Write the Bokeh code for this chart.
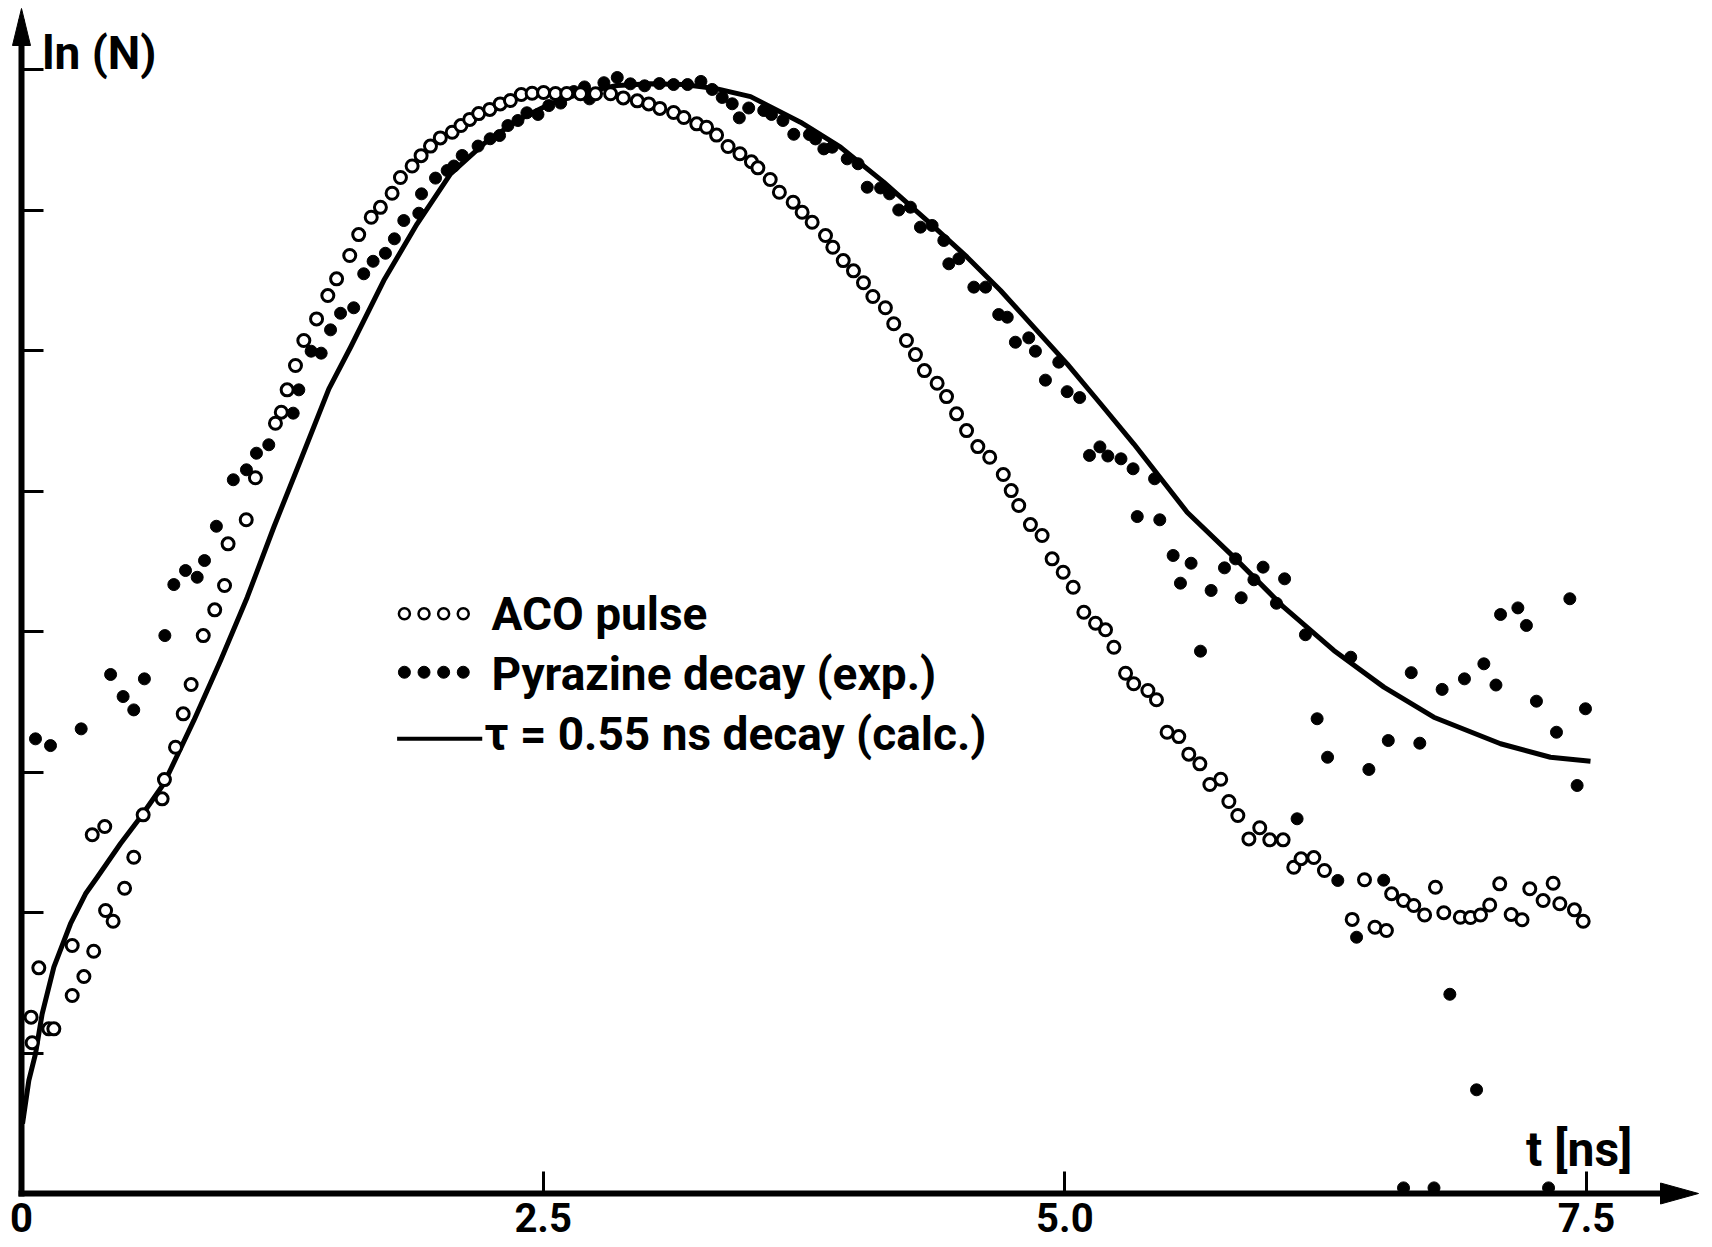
from bokeh.plotting import figure
from bokeh.models import Range1d, FixedTicker, Label
from bokeh.embed import file_html
from bokeh.resources import INLINE

# ---------------- data (t in ns, ln(N) in tick units) ----------------
aco_t = [0.046, 0.051, 0.083, 0.131, 0.155, 0.243, 0.243, 0.299, 0.339, 0.346,
         0.399, 0.403, 0.439, 0.494, 0.538, 0.583, 0.674, 0.685, 0.738, 0.775,
         0.813, 0.871, 0.926, 0.973, 0.990, 1.077, 1.121, 1.217, 1.245, 1.273,
         1.313, 1.353, 1.414, 1.468, 1.510, 1.573, 1.616, 1.676, 1.720, 1.776,
         1.816, 1.872, 1.915, 1.960, 2.007, 2.064, 2.106, 2.148, 2.191, 2.244,
         2.294, 2.343, 2.395, 2.447, 2.502, 2.559, 2.613, 2.679, 2.751, 2.823,
         2.884, 2.951, 3.006, 3.059, 3.125, 3.174, 3.236, 3.283, 3.331, 3.386,
         3.443, 3.498, 3.529, 3.588, 3.632, 3.698, 3.741, 3.789, 3.853, 3.888,
         3.938, 3.987, 4.035, 4.080, 4.140, 4.180, 4.241, 4.284, 4.327, 4.388,
         4.433, 4.481, 4.529, 4.583, 4.640, 4.705, 4.743, 4.779, 4.835, 4.891,
         4.939, 4.992, 5.040, 5.091, 5.147, 5.195, 5.235, 5.291, 5.330, 5.398,
         5.439, 5.490, 5.546, 5.594, 5.647, 5.695, 5.747, 5.786, 5.829, 5.882,
         5.934, 5.982, 6.046, 6.097, 6.132, 6.193, 6.244, 6.377, 6.436, 6.486,
         6.541, 6.566, 6.623, 6.672, 6.724, 6.776, 6.816, 6.895, 6.944, 6.992,
         7.036, 7.084, 7.139, 7.191, 7.228, 7.292, 7.340, 7.372, 7.442, 7.484]
aco_ln = [1.255, 1.073, 1.606, 1.172, 1.172, 1.409, 1.765, 1.544, 2.553, 1.724,
          2.612, 2.014, 1.938, 2.173, 2.393, 2.695, 2.809, 2.946, 3.176, 3.414,
          3.623, 3.971, 4.154, 4.327, 4.624, 4.795, 5.094, 5.482, 5.561, 5.720,
          5.893, 6.071, 6.225, 6.391, 6.510, 6.676, 6.825, 6.948, 7.019, 7.119,
          7.231, 7.313, 7.387, 7.455, 7.513, 7.553, 7.601, 7.645, 7.686, 7.716,
          7.755, 7.779, 7.822, 7.831, 7.836, 7.829, 7.829, 7.827, 7.827, 7.827,
          7.798, 7.777, 7.755, 7.723, 7.694, 7.658, 7.613, 7.589, 7.533, 7.452,
          7.400, 7.343, 7.300, 7.217, 7.126, 7.055, 6.984, 6.913, 6.818, 6.735,
          6.640, 6.567, 6.482, 6.384, 6.304, 6.190, 6.071, 5.971, 5.857, 5.767,
          5.672, 5.549, 5.430, 5.316, 5.240, 5.117, 5.003, 4.897, 4.761, 4.683,
          4.517, 4.422, 4.315, 4.137, 4.059, 4.012, 3.888, 3.703, 3.628, 3.580,
          3.514, 3.283, 3.252, 3.127, 3.058, 2.911, 2.948, 2.790, 2.690, 2.524,
          2.603, 2.517, 2.517, 2.322, 2.383, 2.391, 2.299, 1.951, 2.233, 1.895,
          1.872, 2.133, 2.085, 2.050, 1.982, 2.180, 1.998, 1.966, 1.964, 1.982,
          2.053, 2.204, 1.986, 1.948, 2.169, 2.085, 2.208, 2.062, 2.019, 1.938]

pyr_t = [0.067, 0.139, 0.286, 0.427, 0.487, 0.538, 0.589, 0.687, 0.730, 0.786,
         0.842, 0.877, 0.934, 1.015, 1.078, 1.126, 1.185, 1.302, 1.329, 1.388,
         1.436, 1.481, 1.529, 1.592, 1.640, 1.685, 1.744, 1.787, 1.832, 1.904,
         1.917, 1.984, 2.040, 2.072, 2.112, 2.188, 2.246, 2.291, 2.331, 2.379,
         2.422, 2.475, 2.527, 2.584, 2.647, 2.698, 2.722, 2.791, 2.855, 2.918,
         2.986, 3.057, 3.125, 3.192, 3.256, 3.310, 3.358, 3.406, 3.440, 3.485,
         3.557, 3.594, 3.649, 3.701, 3.776, 3.805, 3.845, 3.885, 3.957, 4.009,
         4.053, 4.117, 4.160, 4.204, 4.260, 4.308, 4.364, 4.420, 4.444, 4.492,
         4.564, 4.620, 4.683, 4.724, 4.763, 4.827, 4.859, 4.907, 4.971, 5.011,
         5.071, 5.118, 5.168, 5.206, 5.269, 5.327, 5.347, 5.430, 5.455, 5.519,
         5.554, 5.605, 5.650, 5.701, 5.765, 5.818, 5.845, 5.906, 5.950, 6.014,
         6.053, 6.113, 6.153, 6.209, 6.259, 6.308, 6.370, 6.398, 6.457, 6.528,
         6.550, 6.623, 6.660, 6.701, 6.769, 6.808, 6.845, 6.915, 6.973, 7.008,
         7.066, 7.088, 7.171, 7.212, 7.260, 7.318, 7.356, 7.420, 7.455, 7.495]
pyr_ln = [3.236, 3.188, 3.307, 3.694, 3.537, 3.442, 3.663, 3.971, 4.334, 4.434,
          4.386, 4.505, 4.749, 5.080, 5.151, 5.269, 5.329, 5.554, 5.720, 5.995,
          5.981, 6.147, 6.265, 6.304, 6.546, 6.635, 6.692, 6.795, 6.925, 6.977,
          7.115, 7.227, 7.281, 7.313, 7.388, 7.455, 7.507, 7.530, 7.601, 7.637,
          7.692, 7.680, 7.743, 7.761, 7.843, 7.876, 7.791, 7.906, 7.943, 7.898,
          7.884, 7.900, 7.893, 7.893, 7.915, 7.858, 7.801, 7.756, 7.656, 7.726,
          7.708, 7.680, 7.637, 7.539, 7.537, 7.506, 7.435, 7.447, 7.364, 7.329,
          7.162, 7.157, 7.115, 7.000, 7.020, 6.878, 6.890, 6.783, 6.617, 6.653,
          6.451, 6.451, 6.256, 6.237, 6.059, 6.090, 5.995, 5.789, 5.917, 5.707,
          5.665, 5.253, 5.314, 5.249, 5.229, 5.158, 4.818, 5.087, 4.795, 4.541,
          4.344, 4.486, 3.860, 4.292, 4.453, 4.517, 4.240, 4.368, 4.458, 4.201,
          4.375, 2.667, 3.977, 3.379, 3.105, 2.228, 3.817, 1.824, 3.018, 2.230,
          3.224, 0.040, 3.707, 3.205, 0.040, 3.588, 1.418, 3.663, 0.738, 3.770,
          3.619, 4.121, 4.168, 4.043, 3.504, 0.040, 3.283, 4.233, 2.904, 3.450]

calc_t = [0.005, 0.035, 0.067, 0.099, 0.155, 0.235, 0.307, 0.363, 0.474, 0.570,
          0.682, 0.826, 0.954, 1.082, 1.209, 1.337, 1.473, 1.577, 1.736, 1.896,
          2.056, 2.215, 2.375, 2.535, 2.695, 2.855, 3.014, 3.174, 3.334, 3.494,
          3.733, 3.925, 4.132, 4.340, 4.532, 4.692, 4.851, 5.011, 5.171, 5.330,
          5.586, 5.810, 6.049, 6.289, 6.529, 6.768, 7.088, 7.327, 7.519]
calc_ln = [0.498, 0.804, 0.994, 1.279, 1.611, 1.920, 2.133, 2.251, 2.489, 2.678,
           2.916, 3.367, 3.794, 4.244, 4.742, 5.217, 5.727, 6.023, 6.498, 6.902,
           7.257, 7.471, 7.637, 7.756, 7.838, 7.886, 7.898, 7.893, 7.862, 7.807,
           7.625, 7.447, 7.198, 6.925, 6.664, 6.427, 6.166, 5.905, 5.621, 5.336,
           4.849, 4.529, 4.173, 3.865, 3.604, 3.390, 3.201, 3.105, 3.077]

x_ticks = [0, 2.5, 5.0, 7.5]
x_tick_labels = ["0", "2.5", "5.0", "7.5"]
y_ticks = [1, 2, 3, 4, 5, 6, 7, 8]
legend_labels = ["ACO pulse", "Pyrazine decay (exp.)", "\u03c4 = 0.55 ns decay (calc.)"]
y_title = "ln (N)"
x_title = "t [ns]"

# ---------------- layout ----------------
W, H = 1712, 1247
PX_X = 208.67          # pixels per ns
PX_Y = 140.5           # pixels per ln-unit
ORIG_X, ORIG_Y = 21, 1193   # origin position inside the figure (px)
X0 = -ORIG_X / PX_X
X1 = X0 + W / PX_X
Y1 = ORIG_Y / PX_Y
Y0 = Y1 - H / PX_Y
X_TIP = (1698 - ORIG_X) / PX_X
Y_TIP = (ORIG_Y - 8) / PX_Y
TXT_DY = 17 / PX_Y     # compensation for label baseline placement
FONT = "Roboto"
INK = "black"

p = figure(width=W, height=H,
           x_range=Range1d(X0, X1), y_range=Range1d(Y0, Y1),
           output_backend="svg", toolbar_location=None,
           min_border_left=0, min_border_right=0,
           min_border_top=0, min_border_bottom=0)
p.grid.visible = False
p.outline_line_color = None
p.background_fill_color = "white"
p.border_fill_color = "white"

xa = p.xaxis[0]
xa.fixed_location = 0
xa.bounds = (0, X_TIP - 0.1)
xa.ticker = FixedTicker(ticks=x_ticks)
xa.major_label_overrides = {float(k): v for k, v in zip(x_ticks, x_tick_labels)}
xa.axis_line_width = 6
xa.axis_line_color = INK
xa.axis_line_cap = "square"
xa.major_tick_in = 22
xa.major_tick_out = 0
xa.major_tick_line_width = 3
xa.minor_tick_in = 0
xa.minor_tick_out = 0
xa.major_label_standoff = 9
xa.major_label_text_font = FONT
xa.major_label_text_font_size = "40px"
xa.major_label_text_font_style = "bold"
xa.major_label_text_color = INK

ya = p.yaxis[0]
ya.fixed_location = 0
ya.bounds = (0, Y_TIP - 0.1)
ya.ticker = FixedTicker(ticks=y_ticks)
ya.axis_line_width = 6
ya.axis_line_color = INK
ya.axis_line_cap = "square"
ya.major_tick_in = 22
ya.major_tick_out = 0
ya.major_tick_line_width = 3
ya.minor_tick_in = 0
ya.minor_tick_out = 0
ya.major_label_text_color = None

# arrow heads at the axis ends
p.patch([0, -9 / PX_X, 9 / PX_X], [Y_TIP, Y_TIP - 37 / PX_Y, Y_TIP - 37 / PX_Y],
        fill_color=INK, line_color=INK, line_width=1)
p.patch([X_TIP, X_TIP - 38 / PX_X, X_TIP - 38 / PX_X], [0, 10.5 / PX_Y, -10.5 / PX_Y],
        fill_color=INK, line_color=INK, line_width=1)

# ---------------- series ----------------
p.line(calc_t, calc_ln, line_width=5, line_color=INK, line_join="round")
p.scatter(pyr_t, pyr_ln, marker="circle", size=12, fill_color=INK, line_color=INK, line_width=1)
p.scatter(aco_t, aco_ln, marker="circle", size=12, fill_color="white", line_color=INK, line_width=3)

# ---------------- legend (drawn in the plot) ----------------
key_x0, key_dx = 1.835, 0.094
row_y = [4.126, 3.710, 3.236]
text_x = [2.252, 2.252, 2.219]
text_base = [4.007, 3.580, 3.153]
p.scatter([key_x0 + i * key_dx for i in range(4)], [row_y[0]] * 4, marker="circle",
          size=11, fill_color="white", line_color=INK, line_width=2.5)
p.scatter([key_x0 + i * key_dx for i in range(4)], [row_y[1]] * 4, marker="circle",
          size=12, fill_color=INK, line_color=INK)
p.line([key_x0 - 0.035, key_x0 + 0.373], [row_y[2]] * 2, line_width=4, line_color=INK)
for tx, ty, lab in zip(text_x, text_base, legend_labels):
    p.add_layout(Label(x=tx, y=ty + TXT_DY, text=lab, text_font=FONT, text_font_size="46px",
                       text_font_style="bold", text_baseline="alphabetic", text_color=INK))

# axis titles
p.add_layout(Label(x=0.10, y=7.993 + TXT_DY, text=y_title, text_font=FONT, text_font_size="46px",
                   text_font_style="bold", text_baseline="alphabetic", text_color=INK))
p.add_layout(Label(x=7.21, y=0.192 + TXT_DY, text=x_title, text_font=FONT, text_font_size="48px",
                   text_font_style="bold", text_baseline="alphabetic", text_color=INK))

open("out.html", "w").write(file_html(p, INLINE))
